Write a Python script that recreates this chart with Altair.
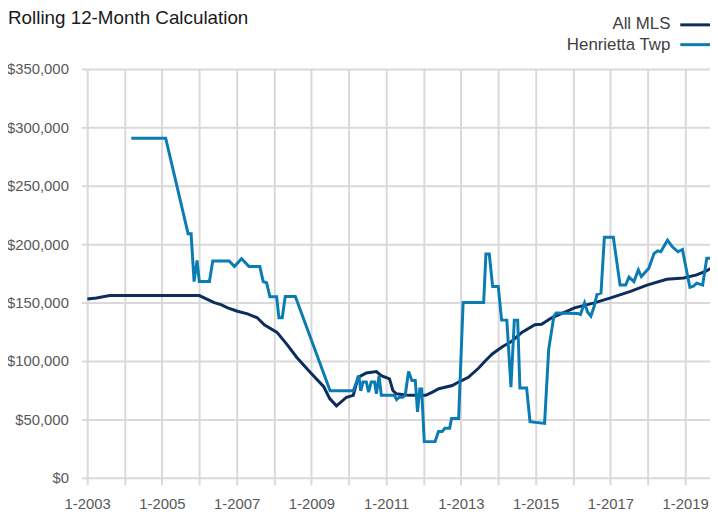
import altair as alt
import pandas as pd

# ---- data (decimal year, $ thousands) ----
mls_year = [2003.00, 2003.25, 2003.60, 2004.00, 2005.00, 2006.00, 2006.23, 2006.40,
            2006.58, 2006.76, 2007.02, 2007.29, 2007.55, 2007.74, 2008.08, 2008.35,
            2008.61, 2008.96, 2009.33, 2009.49, 2009.67, 2009.94, 2010.12, 2010.25,
            2010.47, 2010.74, 2010.87, 2011.09, 2011.18, 2011.27, 2011.61, 2012.06,
            2012.24, 2012.41, 2012.77, 2012.94, 2013.20, 2013.47, 2013.65, 2013.84,
            2014.10, 2014.37, 2014.63, 2014.98, 2015.16, 2015.43, 2015.69, 2016.04,
            2016.57, 2017.01, 2017.54, 2017.98, 2018.51, 2018.96, 2019.31, 2019.56,
            2019.70]
mls_value = [153.0, 154.0, 156.0, 156.0, 156.0, 156.0, 152.5, 150.0,
             148.3, 145.5, 142.6, 140.4, 137.0, 131.0, 124.5, 114.0,
             103.0, 90.6, 78.0, 67.8, 61.6, 69.0, 70.6, 86.0,
             89.8, 91.0, 87.5, 84.7, 74.8, 72.0, 70.6, 70.6,
             73.4, 76.3, 79.0, 82.0, 86.0, 93.8, 100.0, 106.0,
             112.0, 117.0, 124.5, 131.0, 131.4, 137.0, 140.6, 145.5,
             149.8, 154.0, 159.6, 165.0, 170.0, 171.0, 173.7, 177.0,
             179.4]

hen_year = [2004.18, 2005.10, 2005.70, 2005.78, 2005.86, 2005.94, 2006.00, 2006.27,
            2006.36, 2006.80, 2006.94, 2007.13, 2007.33, 2007.62, 2007.71, 2007.80,
            2007.89, 2008.07, 2008.13, 2008.22, 2008.30, 2008.57, 2009.50, 2010.12,
            2010.19, 2010.27, 2010.32, 2010.38, 2010.47, 2010.53, 2010.60, 2010.69,
            2010.74, 2010.81, 2010.87, 2011.22, 2011.28, 2011.35, 2011.44, 2011.51,
            2011.60, 2011.69, 2011.78, 2011.84, 2011.90, 2011.95, 2012.02, 2012.31,
            2012.40, 2012.50, 2012.57, 2012.70, 2012.75, 2012.94, 2013.06, 2013.61,
            2013.67, 2013.76, 2013.85, 2014.00, 2014.09, 2014.23, 2014.34, 2014.43,
            2014.52, 2014.58, 2014.76, 2014.85, 2015.24, 2015.35, 2015.49, 2015.55,
            2016.13, 2016.20, 2016.31, 2016.39, 2016.48, 2016.57, 2016.64, 2016.75,
            2016.84, 2017.08, 2017.26, 2017.41, 2017.50, 2017.63, 2017.75, 2017.83,
            2018.03, 2018.17, 2018.27, 2018.35, 2018.53, 2018.66, 2018.81, 2018.93,
            2019.00, 2019.13, 2019.22, 2019.31, 2019.47, 2019.58, 2019.70]
hen_value = [290.7, 290.7, 209.0, 209.0, 168.0, 186.0, 168.0, 168.0,
             185.6, 185.6, 180.8, 187.5, 180.8, 180.8, 168.0, 167.0,
             155.0, 155.0, 137.0, 137.0, 155.3, 155.3, 74.5, 74.5,
             80.5, 87.5, 74.5, 82.0, 82.0, 73.4, 82.0, 82.0,
             72.0, 87.5, 70.6, 70.6, 67.0, 69.0, 69.0, 70.6,
             91.0, 83.3, 83.3, 56.5, 76.0, 76.0, 31.0, 31.0,
             39.6, 39.6, 42.4, 42.4, 50.8, 50.8, 150.0, 150.0,
             191.5, 191.5, 163.8, 163.8, 135.0, 135.0, 77.7, 135.0,
             135.0, 76.9, 76.9, 48.0, 46.6, 110.0, 138.4, 141.0,
             140.7, 139.8, 149.8, 142.0, 138.4, 147.0, 156.8, 158.2,
             206.0, 206.0, 165.0, 165.0, 171.8, 168.0, 178.0, 172.3,
             179.4, 192.0, 194.3, 193.5, 203.4, 197.7, 193.5, 195.5,
             183.6, 163.0, 164.0, 166.7, 165.0, 188.0, 188.0]

series_names = ["All MLS", "Henrietta Twp"]
series_colors = ["#0c2d5e", "#0a7cb3"]
title_text = "Rolling 12-Month Calculation"
x_ticks = list(range(2003, 2020))
y_ticks = list(range(0, 350001, 50000))

FONT = "Liberation Sans, Arial, Helvetica, sans-serif"

mls_df = pd.DataFrame({"year": mls_year, "value": [v * 1000 for v in mls_value],
                       "series": series_names[0]})
hen_df = pd.DataFrame({"year": hen_year, "value": [v * 1000 for v in hen_value],
                       "series": series_names[1]})

x_enc = alt.X("year:Q",
              scale=alt.Scale(domain=[2003, 2019.667], nice=False, zero=False),
              axis=alt.Axis(values=x_ticks, title=None, domain=False,
                            labelExpr="datum.value % 2 == 1 ? '1-' + datum.value : ''",
                            labelOverlap=False, labelFlush=False,
                            tickSize=7, labelPadding=12))
y_enc = alt.Y("value:Q",
              scale=alt.Scale(domain=[0, 350000], nice=False),
              axis=alt.Axis(values=y_ticks, format="$,.0f", title=None, domain=False,
                            tickSize=6, labelPadding=13))

mls_line = alt.Chart(mls_df).mark_line(color=series_colors[0], strokeWidth=3,
                                       clip=True).encode(x=x_enc, y=y_enc)
hen_line = alt.Chart(hen_df).mark_line(color=series_colors[1], strokeWidth=3,
                                       clip=True).encode(x=x_enc, y=y_enc)

one = pd.DataFrame({"t": [title_text]})
title = alt.Chart(one).mark_text(align="left", baseline="alphabetic", font=FONT,
                                 fontSize=19, color="#1a1a1a").encode(
    text="t:N", x=alt.value(-80), y=alt.value(-45))

leg_df0 = pd.DataFrame({"t": [series_names[0]]})
leg_df1 = pd.DataFrame({"t": [series_names[1]]})
leg_t0 = alt.Chart(leg_df0).mark_text(align="right", baseline="alphabetic", font=FONT,
                                      fontSize=17, color="#404040").encode(
    text="t:N", x=alt.value(589), y=alt.value(-40.5))
leg_t1 = alt.Chart(leg_df1).mark_text(align="right", baseline="alphabetic", font=FONT,
                                      fontSize=17, color="#404040").encode(
    text="t:N", x=alt.value(589), y=alt.value(-19))
leg_r0 = alt.Chart(leg_df0).mark_rule(color=series_colors[0], strokeWidth=3).encode(
    x=alt.value(599), x2=alt.value(629), y=alt.value(-44.5))
leg_r1 = alt.Chart(leg_df1).mark_rule(color=series_colors[1], strokeWidth=3).encode(
    x=alt.value(599), x2=alt.value(629), y=alt.value(-24.5))

chart = alt.layer(mls_line, hen_line, title, leg_t0, leg_t1, leg_r0, leg_r1).properties(
    width=629, height=413,
    autosize=alt.AutoSizeParams(type="none"),
    padding={"left": 80, "top": 59, "right": 0, "bottom": 35},
).configure_view(stroke=None).configure_axis(
    labelFont=FONT, labelFontSize=15, labelColor="#595959",
    gridColor="#d9d9d9", gridWidth=2, tickColor="#d9d9d9", tickWidth=2,
)

chart.save("out.html", embed_options={"renderer": "svg", "actions": False})
